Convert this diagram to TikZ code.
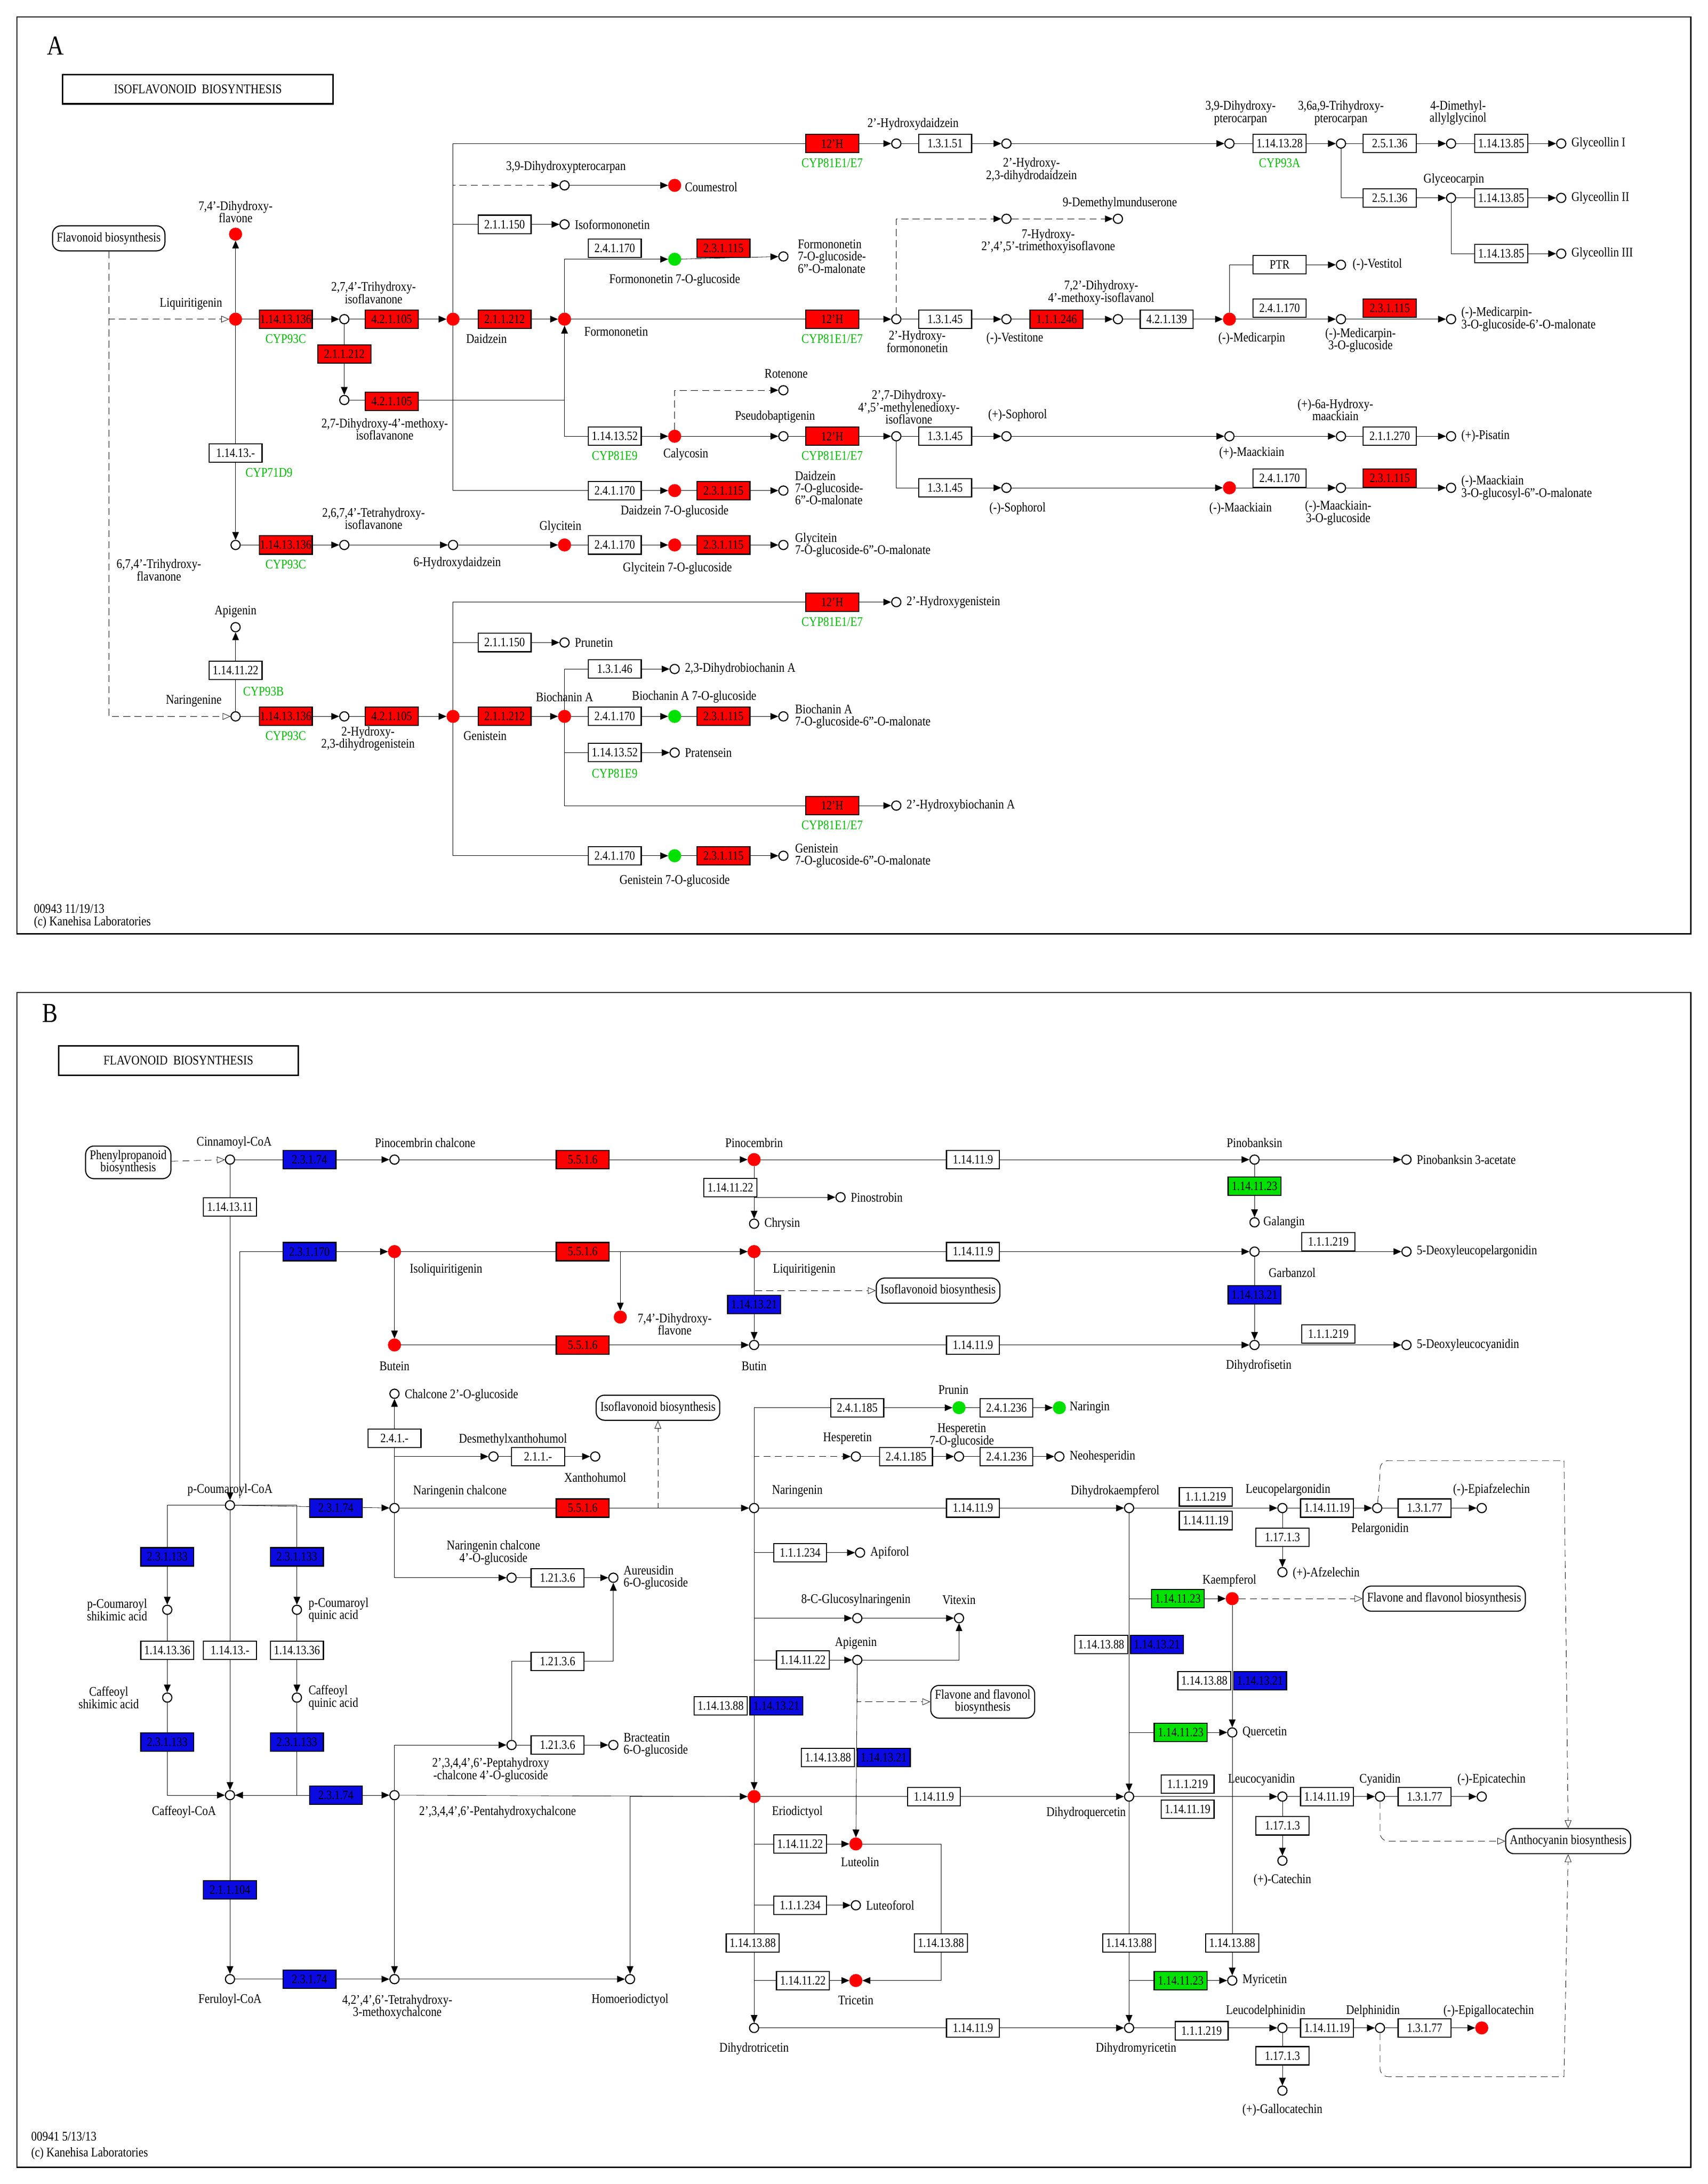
\documentclass[tikz,border=0pt]{standalone}
\usepackage{fontspec}
\setmainfont[FakeStretch=0.85]{Liberation Serif}
\usetikzlibrary{arrows.meta,backgrounds,positioning}
\definecolor{kr}{RGB}{255,0,0}
\definecolor{kb}{RGB}{10,10,225}
\definecolor{kg}{RGB}{0,225,0}
\definecolor{gt}{RGB}{0,190,0}
\begin{document}
\begin{tikzpicture}[x=0.5mm,y=-0.5mm,line width=1.1pt,
 every node/.style={font=\fontsize{13.5}{12.5}\selectfont},
 c/.style={circle,draw,fill=white,inner sep=0,minimum size=3.3mm},
 rd/.style={circle,draw=kr,fill=kr,inner sep=0,minimum size=4.3mm},
 gd/.style={circle,draw=kg,fill=kg,inner sep=0,minimum size=4.3mm},
 e/.style={rectangle,draw,fill=white,inner sep=0,minimum width=19mm,minimum height=6.6mm,font=\fontsize{13}{13}\selectfont},
 er/.style={e,fill=kr},eb/.style={e,fill=kb},eg/.style={e,fill=kg},
 t/.style={align=center,inner sep=0},
 tl/.style={align=left,inner sep=0,anchor=west},
 g/.style={text=gt,inner sep=0},
 pb/.style={draw,rounded corners=3mm,fill=white,align=center,inner sep=1.5mm,minimum height=9mm},
 a/.style={-{Triangle[length=2.8mm,width=2.4mm]}},
 ds/.style={dashed,dash pattern=on 2.5mm off 1.5mm},
 oa/.style={-{Triangle[open,length=2.8mm,width=2.4mm]}}]
\useasboundingbox (0,0) rectangle (1225,1567);
%================= PANEL A ==================
\draw (12,12) rectangle (1213,670);
\node[font=\fontsize{28}{30}\selectfont] (LA) at (40,33) {A};
\node[draw,line width=1.5pt,minimum width=97mm,minimum height=10.5mm] (TA) at (142,64) {ISOFLAVONOID\ \ BIOSYNTHESIS};
\node[t,anchor=west] (fa1) at (24,652) {00943 11/19/13};
\node[t,anchor=west] (fa2) at (24,662) {(c) Kanehisa Laboratories};
\node[pb] (fb) at (78,171) {Flavonoid biosynthesis};
% compounds
\node[rd] (lq) at (169,229) {}; \node[rd] (dhf) at (169,168) {};
\node[c] (nar) at (169,514) {};
\node[c] (thi) at (247,229) {}; \node[rd] (dz) at (325,229) {};
\node[c] (dmi) at (247,287) {}; \node[rd] (fm) at (405,229) {};
\node[c] (hd) at (643,103) {}; \node[c] (hdd) at (722,103) {};
\node[c] (dhp) at (882,103) {}; \node[c] (thp) at (962,103) {};
\node[c] (dag) at (1041,103) {}; \node[c] (g1) at (1120,103) {};
\node[c] (gc) at (1041,142) {}; \node[c] (g2) at (1120,142) {}; \node[c] (g3) at (1120,182) {};
\node[c] (dhpc) at (405,133) {}; \node[rd] (cou) at (484,133) {};
\node[c] (ifm) at (405,161) {};
\node[gd] (fg) at (484,186) {}; \node[c] (fgm) at (562,184) {};
\node[c] (hf) at (643,229) {}; \node[c] (ves) at (722,229) {};
\node[c] (dmi2) at (802,229) {}; \node[rd] (med) at (882,229) {};
\node[c] (tmi) at (722,157) {}; \node[c] (dmm) at (802,157) {};
\node[c] (vst) at (962,190) {}; \node[c] (mg) at (962,229) {}; \node[c] (mgm) at (1041,229) {};
\node[rd] (cal) at (484,313) {}; \node[c] (rot) at (562,280) {};
\node[c] (pbp) at (562,313) {}; \node[c] (dmi3) at (643,313) {};
\node[c] (sop) at (722,313) {}; \node[c] (pma) at (882,313) {};
\node[c] (hma) at (962,313) {}; \node[c] (pis) at (1041,313) {};
\node[c] (msop) at (722,350) {}; \node[rd] (mma) at (882,350) {};
\node[c] (mmg) at (962,350) {}; \node[c] (mmgm) at (1041,350) {};
\node[rd] (dg) at (484,352) {}; \node[c] (dgm) at (562,352) {};
\node[c] (tfl) at (169,391) {}; \node[c] (tti) at (247,391) {};
\node[c] (hdz) at (325,391) {}; \node[rd] (gly) at (405,391) {};
\node[rd] (gg) at (484,391) {}; \node[c] (ggm) at (562,391) {};
\node[c] (api) at (169,450) {};
\node[c] (thg) at (247,514) {}; \node[rd] (gen) at (325,514) {};
\node[c] (hg) at (643,432) {}; \node[c] (pru) at (405,461) {};
\node[rd] (bio) at (405,514) {}; \node[c] (dhb) at (484,480) {};
\node[gd] (bg) at (484,514) {}; \node[c] (bgm) at (562,514) {};
\node[c] (pra) at (484,540) {}; \node[c] (hb) at (643,578) {};
\node[gd] (gg7) at (484,614) {}; \node[c] (ggm7) at (562,614) {};
% edges A
\begin{scope}[on background layer]
\fill[white] (0,0) rectangle (1225,1567);
\draw[ds,oa] (fb.south) |- (lq);
\draw[ds,oa] (fb.south) |- (nar);
\draw[a] (lq) -- (dhf);
\draw[a] (lq) -- (thi); \draw[a] (thi) -- (dz); \draw[a] (thi) -- (dmi);
\draw[a] (dmi) -| (fm); \draw[a] (dz) -- (fm);
\draw[a] (dz) |- (hd); \draw[a] (hd) -- (hdd); \draw[a] (hdd) -- (dhp);
\draw[a] (dhp) -- (thp); \draw[a] (thp) -- (dag); \draw[a] (dag) -- (g1);
\draw[a] (thp) |- (gc); \draw[a] (gc) -- (g2); \draw[a] (gc) |- (g3);
\draw[ds,a] (dz) |- (dhpc); \draw[a] (dhpc) -- (cou);
\draw[a] (dz) |- (ifm);
\draw[a] (fm) |- (fg); \draw[a] (fg) -- (fgm);
\draw[a] (fm) -- (hf); \draw[a] (hf) -- (ves); \draw[a] (ves) -- (dmi2); \draw[a] (dmi2) -- (med);
\draw[ds,a] (hf) |- (tmi); \draw[ds,a] (tmi) -- (dmm);
\draw[a] (med) |- (vst); \draw[a] (med) -- (mg); \draw[a] (mg) -- (mgm);
\draw[a] (fm) |- (cal); \draw[ds,a] (cal) |- (rot);
\draw[a] (cal) -- (pbp); \draw[a] (pbp) -- (dmi3); \draw[a] (dmi3) -- (sop);
\draw[a] (sop) -- (pma); \draw[a] (pma) -- (hma); \draw[a] (hma) -- (pis);
\draw[a] (dmi3) |- (msop); \draw[a] (msop) -- (mma); \draw[a] (mma) -- (mmg); \draw[a] (mmg) -- (mmgm);
\draw[a] (dz) |- (dg); \draw[a] (dg) -- (dgm);
\draw[a] (lq) -- (tfl); \draw[a] (tfl) -- (tti); \draw[a] (tti) -- (hdz);
\draw[a] (hdz) -- (gly); \draw[a] (gly) -- (gg); \draw[a] (gg) -- (ggm);
\draw[a] (nar) -- (api); \draw[a] (nar) -- (thg); \draw[a] (thg) -- (gen);
\draw[a] (gen) |- (hg); \draw[a] (gen) |- (pru); \draw[a] (gen) -- (bio);
\draw[a] (bio) |- (dhb); \draw[a] (bio) -- (bg); \draw[a] (bg) -- (bgm);
\draw[a] (bio) |- (pra); \draw[a] (bio) |- (hb);
\draw[a] (gen) |- (gg7); \draw[a] (gg7) -- (ggm7);
\end{scope}
% enzymes A
\node[er] (ea1) at (205,229) {1.14.13.136}; \node[g] (ga1) at (205,243) {CYP93C};
\node[er] (ea2) at (281,229) {4.2.1.105};
\node[er] (ea3) at (247,254) {2.1.1.212};
\node[er] (ea4) at (281,288) {4.2.1.105};
\node[er] (ea5) at (362,229) {2.1.1.212};
\node[er] (ea6) at (597,103) {12'H}; \node[g] (ga6) at (597,117) {CYP81E1/E7};
\node[e] (ea7) at (678,103) {1.3.1.51};
\node[e] (ea8) at (918,103) {1.14.13.28}; \node[g] (ga8) at (918,117) {CYP93A};
\node[e] (ea9) at (997,103) {2.5.1.36};
\node[e] (ea10) at (1077,103) {1.14.13.85};
\node[e] (ea11) at (997,142) {2.5.1.36};
\node[e] (ea12) at (1077,142) {1.14.13.85};
\node[e] (ea13) at (1077,182) {1.14.13.85};
\node[e] (ea14) at (362,161) {2.1.1.150};
\node[e] (ea15) at (441,178) {2.4.1.170};
\node[er] (ea16) at (519,178) {2.3.1.115};
\node[er] (ea17) at (597,229) {12'H}; \node[g] (ga17) at (597,243) {CYP81E1/E7};
\node[e] (ea18) at (678,229) {1.3.1.45};
\node[er] (ea19) at (758,229) {1.1.1.246};
\node[e] (ea20) at (837,229) {4.2.1.139};
\node[e] (ea21) at (918,190) {PTR};
\node[e] (ea22) at (918,221) {2.4.1.170};
\node[er] (ea23) at (997,221) {2.3.1.115};
\node[e] (ea24) at (441,313) {1.14.13.52}; \node[g] (ga24) at (441,327) {CYP81E9};
\node[er] (ea25) at (597,313) {12'H}; \node[g] (ga25) at (597,327) {CYP81E1/E7};
\node[e] (ea26) at (678,313) {1.3.1.45};
\node[e] (ea27) at (997,313) {2.1.1.270};
\node[e] (ea28) at (678,350) {1.3.1.45};
\node[e] (ea29) at (918,343) {2.4.1.170};
\node[er] (ea30) at (997,343) {2.3.1.115};
\node[e] (ea31) at (441,352) {2.4.1.170};
\node[er] (ea32) at (519,352) {2.3.1.115};
\node[e] (ea33) at (169,325) {1.14.13.-}; \node[g] (ga33) at (193,339) {CYP71D9};
\node[er] (ea34) at (205,391) {1.14.13.136}; \node[g] (ga34) at (205,405) {CYP93C};
\node[e] (ea35) at (441,391) {2.4.1.170};
\node[er] (ea36) at (519,391) {2.3.1.115};
\node[e] (ea37) at (169,481) {1.14.11.22}; \node[g] (ga37) at (189,496) {CYP93B};
\node[er] (ea38) at (205,514) {1.14.13.136}; \node[g] (ga38) at (205,528) {CYP93C};
\node[er] (ea39) at (281,514) {4.2.1.105};
\node[er] (ea40) at (597,432) {12'H}; \node[g] (ga40) at (597,446) {CYP81E1/E7};
\node[e] (ea41) at (362,461) {2.1.1.150};
\node[er] (ea42) at (362,514) {2.1.1.212};
\node[e] (ea43) at (441,480) {1.3.1.46};
\node[e] (ea44) at (441,514) {2.4.1.170};
\node[er] (ea45) at (519,514) {2.3.1.115};
\node[e] (ea46) at (441,540) {1.14.13.52}; \node[g] (ga46) at (441,555) {CYP81E9};
\node[er] (ea47) at (597,578) {12'H}; \node[g] (ga47) at (597,592) {CYP81E1/E7};
\node[e] (ea48) at (441,614) {2.4.1.170};
\node[er] (ea49) at (519,614) {2.3.1.115};
% labels A
\node[t] (la1) at (137,218) {Liquiritigenin};
\node[t] (la2) at (169,152) {7,4'-Dihydroxy-\\flavone};
\node[t] (la3) at (268,210) {2,7,4'-Trihydroxy-\\isoflavanone};
\node[t] (la4) at (349,243) {Daidzein};
\node[t] (la5) at (276,308) {2,7-Dihydroxy-4'-methoxy-\\isoflavanone};
\node[t] (la6) at (442,238) {Formononetin};
\node[t] (la7) at (655,89) {2'-Hydroxydaidzein};
\node[t] (la8) at (740,122) {2'-Hydroxy-\\2,3-dihydrodaidzein};
\node[t] (la9) at (890,81) {3,9-Dihydroxy-\\pterocarpan};
\node[t] (la10) at (962,81) {3,6a,9-Trihydroxy-\\pterocarpan};
\node[t] (la11) at (1046,81) {4-Dimethyl-\\allylglycinol};
\node[tl] (la12) at (1127,103) {Glyceollin I};
\node[t] (la13) at (1043,129) {Glyceocarpin};
\node[tl] (la14) at (1127,142) {Glyceollin II};
\node[tl] (la15) at (1127,182) {Glyceollin III};
\node[t] (la16) at (406,120) {3,9-Dihydroxypterocarpan};
\node[tl] (la17) at (491,134) {Coumestrol};
\node[tl] (la18) at (412,161) {Isoformononetin};
\node[t] (la19) at (484,201) {Formononetin 7-O-glucoside};
\node[tl] (la20) at (572,184) {Formononetin\\7-O-glucoside-\\6''-O-malonate};
\node[t] (la21) at (658,245) {2'-Hydroxy-\\formononetin};
\node[t] (la22) at (728,243) {(-)-Vestitone};
\node[t] (la23) at (790,210) {7,2'-Dihydroxy-\\4'-methoxy-isoflavanol};
\node[t] (la24) at (898,243) {(-)-Medicarpin};
\node[t] (la25) at (752,173) {7-Hydroxy-\\2',4',5'-trimethoxyisoflavone};
\node[tl] (la26) at (762,146) {9-Demethylmunduserone};
\node[tl] (la27) at (970,190) {(-)-Vestitol};
\node[t] (la28) at (976,244) {(-)-Medicarpin-\\3-O-glucoside};
\node[tl] (la29) at (1048,229) {(-)-Medicarpin-\\3-O-glucoside-6'-O-malonate};
\node[t] (la30) at (564,268) {Rotenone};
\node[t] (la31) at (492,326) {Calycosin};
\node[t] (la32) at (556,299) {Pseudobaptigenin};
\node[t] (la33) at (652,292) {2',7-Dihydroxy-\\4',5'-methylenedioxy-\\isoflavone};
\node[t] (la34) at (730,298) {(+)-Sophorol};
\node[t] (la35) at (898,325) {(+)-Maackiain};
\node[t] (la36) at (958,294) {(+)-6a-Hydroxy-\\maackiain};
\node[tl] (la37) at (1048,313) {(+)-Pisatin};
\node[t] (la38) at (730,365) {(-)-Sophorol};
\node[t] (la39) at (890,365) {(-)-Maackiain};
\node[t] (la40) at (960,368) {(-)-Maackiain-\\3-O-glucoside};
\node[tl] (la41) at (1048,350) {(-)-Maackiain\\3-O-glucosyl-6''-O-malonate};
\node[t] (la42) at (484,367) {Daidzein 7-O-glucoside};
\node[tl] (la43) at (570,350) {Daidzein\\7-O-glucoside-\\6''-O-malonate};
\node[t] (la44) at (114,409) {6,7,4'-Trihydroxy-\\flavanone};
\node[t] (la45) at (268,372) {2,6,7,4'-Tetrahydroxy-\\isoflavanone};
\node[t] (la46) at (328,404) {6-Hydroxydaidzein};
\node[t] (la47) at (402,378) {Glycitein};
\node[t] (la48) at (486,408) {Glycitein 7-O-glucoside};
\node[tl] (la49) at (570,391) {Glycitein\\7-O-glucoside-6''-O-malonate};
\node[t] (la50) at (169,439) {Apigenin};
\node[t] (la51) at (139,503) {Naringenine};
\node[t] (la52) at (264,530) {2-Hydroxy-\\2,3-dihydrogenistein};
\node[t] (la53) at (348,528) {Genistein};
\node[tl] (la54) at (650,432) {2'-Hydroxygenistein};
\node[tl] (la55) at (412,461) {Prunetin};
\node[t] (la56) at (405,500) {Biochanin A};
\node[tl] (la57) at (491,480) {2,3-Dihydrobiochanin A};
\node[t] (la58) at (498,500) {Biochanin A 7-O-glucoside};
\node[tl] (la59) at (570,514) {Biochanin A\\7-O-glucoside-6''-O-malonate};
\node[tl] (la60) at (491,540) {Pratensein};
\node[tl] (la61) at (650,578) {2'-Hydroxybiochanin A};
\node[t] (la62) at (484,632) {Genistein 7-O-glucoside};
\node[tl] (la63) at (570,614) {Genistein\\7-O-glucoside-6''-O-malonate};
%================= PANEL B ==================
\draw (12,712) rectangle (1213,1555);
\node[font=\fontsize{28}{30}\selectfont] (LB) at (36,727) {B};
\node[draw,line width=1.5pt,minimum width=86mm,minimum height=10.5mm] (TB) at (128,761) {FLAVONOID\ \ BIOSYNTHESIS};
\node[t,anchor=west] (fb1) at (22,1533) {00941 5/13/13};
\node[t,anchor=west] (fb2) at (22,1545) {(c) Kanehisa Laboratories};
\node[pb] (pp) at (92,834) {Phenylpropanoid\\biosynthesis};
\node[pb] (if1) at (673,926) {Isoflavonoid biosynthesis};
\node[pb] (if2) at (472,1010) {Isoflavonoid biosynthesis};
\node[pb] (ff1) at (705,1221) {Flavone and flavonol\\biosynthesis};
\node[pb] (ff2) at (1036,1147) {Flavone and flavonol biosynthesis};
\node[pb] (anb) at (1125,1321) {Anthocyanin biosynthesis};
% compounds B
\node[c] (cin) at (165,832) {}; \node[c] (pcc) at (283,832) {};
\node[rd] (pin) at (541,832) {}; \node[c] (pnb) at (900,832) {}; \node[c] (pba) at (1009,832) {};
\node[c] (chr) at (541,878) {}; \node[c] (pst) at (603,859) {}; \node[c] (gal) at (900,877) {};
\node[c] (pco) at (165,1080) {};
\node[rd] (isl) at (283,898) {}; \node[rd] (liq) at (541,898) {};
\node[c] (gar) at (900,898) {}; \node[c] (dlp) at (1009,898) {};
\node[rd] (but) at (283,965) {}; \node[c] (btn) at (541,965) {};
\node[c] (dfi) at (900,965) {}; \node[c] (dlc) at (1009,965) {};
\node[rd] (dhf2) at (445,945) {};
\node[c] (c2g) at (283,1000) {}; \node[c] (nch) at (283,1082) {};
\node[c] (nar2) at (541,1082) {}; \node[c] (dhk) at (810,1082) {};
\node[c] (dxh) at (354,1045) {}; \node[c] (xan) at (427,1045) {};
\node[c] (ncg) at (367,1132) {}; \node[c] (aur) at (440,1132) {};
\node[c] (pcg) at (367,1252) {}; \node[c] (bra) at (440,1252) {};
\node[gd] (prn) at (688,1010) {}; \node[gd] (nrg) at (760,1010) {};
\node[c] (hes) at (614,1045) {}; \node[c] (hg7) at (688,1045) {}; \node[c] (neo) at (760,1045) {};
\node[c] (apf) at (617,1114) {};
\node[c] (cgn) at (615,1161) {}; \node[c] (vit) at (688,1161) {};
\node[c] (apg) at (615,1191) {};
\node[rd] (eri) at (541,1289) {}; \node[c] (dq) at (810,1289) {};
\node[rd] (lut) at (614,1323) {}; \node[c] (ltf) at (614,1367) {};
\node[c] (dht) at (541,1455) {}; \node[rd] (tri) at (614,1421) {};
\node[c] (dm) at (810,1455) {};
\node[c] (caf) at (165,1288) {}; \node[c] (phc) at (283,1288) {};
\node[c] (pcs) at (120,1155) {}; \node[c] (cs) at (120,1218) {};
\node[c] (pcq) at (213,1155) {}; \node[c] (cq) at (213,1218) {};
\node[c] (fer) at (165,1420) {}; \node[c] (tmc) at (283,1420) {}; \node[c] (hom) at (452,1420) {};
\node[c] (lpg) at (920,1082) {}; \node[c] (pel) at (988,1082) {}; \node[c] (epa) at (1063,1082) {};
\node[c] (afz) at (920,1128) {};
\node[rd] (kae) at (884,1147) {}; \node[c] (que) at (884,1243) {};
\node[c] (lcy) at (920,1289) {}; \node[c] (cya) at (990,1289) {}; \node[c] (epc) at (1063,1289) {};
\node[c] (cat) at (920,1335) {};
\node[c] (myr) at (884,1421) {};
\node[c] (ldp) at (920,1455) {}; \node[c] (del) at (990,1455) {}; \node[rd] (egc) at (1063,1455) {};
\node[c] (gct) at (920,1500) {};
\coordinate (k1) at (172,1075);
\coordinate (k2) at (675,1421);
\coordinate (k3) at (990,1060);
\coordinate (k4) at (1122,1048);
\coordinate (k5) at (990,1490);
\coordinate (k6) at (1122,1490);
% edges B
\begin{scope}[on background layer]
\draw[ds,oa] (pp) -- (cin);
\draw[a] (cin) -- (pcc); \draw[a] (pcc) -- (pin); \draw[a] (pin) -- (pnb); \draw[a] (pnb) -- (pba);
\draw[a] (pin) |- (pst); \draw[a] (pin) -- (chr); \draw[a] (pnb) -- (gal);
\draw[a] (cin) -- (pco);
\draw[a] (k1) |- (isl); \draw[a] (isl) -- (liq); \draw[a] (liq) -- (gar); \draw[a] (gar) -- (dlp);
\draw[a] (isl) -- (but); \draw[a] (but) -- (btn); \draw[a] (btn) -- (dfi); \draw[a] (dfi) -- (dlc);
\draw[a] (gar) -- (dfi);
\draw[ds,oa] (liq) |- (if1);
\draw[a] (liq) -| (dhf2); \draw[a] (liq) -- (btn);
\draw[a] (pco) -- (nch); \draw[a] (nch) -- (c2g); \draw[a] (nch) -- (nar2); \draw[a] (nar2) -- (dhk);
\draw[a] (nch) |- (dxh); \draw[a] (dxh) -- (xan);
\draw[ds,oa] (nar2) -| (if2);
\draw[a] (nch) |- (ncg); \draw[a] (ncg) -- (aur);
\draw[a] (pcg) |- (400,1192) -| (aur); \draw[a] (pcg) -- (bra);
\draw[a] (phc) |- (pcg);
\draw[a] (nar2) |- (prn); \draw[a] (prn) -- (nrg);
\draw[ds,a] (nar2) |- (hes); \draw[a] (hes) -- (hg7); \draw[a] (hg7) -- (neo);
\draw[a] (nar2) |- (apf); \draw[a] (nar2) |- (cgn); \draw[a] (cgn) -- (vit);
\draw[a] (nar2) |- (apg); \draw[a] (apg) -| (vit); \draw[ds,oa] (apg) |- (ff1);
\draw[a] (nar2) -- (eri); \draw[a] (eri) -- (dq);
\draw[a] (eri) |- (lut); \draw[a] (eri) |- (ltf); \draw[a] (eri) -- (dht); \draw[a] (dht) -- (dm);
\draw[a] (apg) -- (lut); \draw (lut) -| (k2); \draw[a] (k2) -- (tri);
\draw[a] (dht) |- (tri);
\draw[a] (dhk) -- (dq); \draw[a] (dq) -- (dm);
\draw[a] (dhk) |- (kae); \draw[ds,oa] (kae) -- (ff2); \draw[a] (kae) -- (que);
\draw[a] (dq) |- (que); \draw[a] (que) -- (myr); \draw[a] (dm) |- (myr);
\draw[a] (dhk) -- (lpg); \draw[a] (lpg) -- (pel); \draw[a] (pel) -- (epa); \draw[a] (lpg) -- (afz);
\draw[a] (dq) -- (lcy); \draw[a] (lcy) -- (cya); \draw[a] (cya) -- (epc); \draw[a] (lcy) -- (cat);
\draw[a] (dm) -- (ldp); \draw[a] (ldp) -- (del); \draw[a] (del) -- (egc); \draw[a] (ldp) -- (gct);
\draw[ds,rounded corners=3mm] (pel) -- (k3) |- (k4);
\draw[ds,oa] (k4) -- (anb.north);
\draw[ds,oa,rounded corners=3mm] (cya) |- (anb.west);
\draw[ds,rounded corners=3mm] (del) -- (k5) -- (k6);
\draw[ds,oa] (k6) -- (anb.south);
\draw[a] (pco) -| (pcs); \draw[a] (pcs) -- (cs); \draw[a] (cs) |- (caf);
\draw[a] (pco) -| (pcq); \draw[a] (pcq) -- (cq); \draw[a] (cq) |- (caf);
\draw[a] (pco) -- (caf); \draw[a] (caf) -- (phc); \draw[a] (caf) -- (fer); \draw[a] (fer) -- (tmc);
\draw[a] (eri) -| (hom); \draw[a] (phc) -- (eri); \draw[a] (tmc) -- (hom); \draw[a] (phc) -- (tmc);
\end{scope}
% enzymes B
\node[eb] (eb1) at (222,832) {2.3.1.74};
\node[er] (eb2) at (418,832) {5.5.1.6};
\node[e] (eb3) at (698,832) {1.14.11.9};
\node[e] (eb4) at (524,852) {1.14.11.22};
\node[eg] (eb5) at (900,851) {1.14.11.23};
\node[e] (eb6) at (165,866) {1.14.13.11};
\node[eb] (eb7) at (222,898) {2.3.1.170};
\node[er] (eb8) at (418,898) {5.5.1.6};
\node[e] (eb9) at (698,898) {1.14.11.9};
\node[e] (eb10) at (953,891) {1.1.1.219};
\node[eb] (eb11) at (900,929) {1.14.13.21};
\node[eb] (eb12) at (541,936) {1.14.13.21};
\node[er] (eb13) at (418,965) {5.5.1.6};
\node[e] (eb14) at (698,965) {1.14.11.9};
\node[e] (eb15) at (953,957) {1.1.1.219};
\node[e] (eb16) at (283,1032) {2.4.1.-};
\node[eb] (eb17) at (241,1082) {2.3.1.74};
\node[er] (eb18) at (418,1082) {5.5.1.6};
\node[e] (eb19) at (698,1082) {1.14.11.9};
\node[e] (eb20) at (386,1045) {2.1.1.-};
\node[e] (eb21) at (400,1132) {1.21.3.6};
\node[e] (eb22) at (400,1192) {1.21.3.6};
\node[e] (eb23) at (400,1252) {1.21.3.6};
\node[e] (eb24) at (615,1010) {2.4.1.185};
\node[e] (eb25) at (722,1010) {2.4.1.236};
\node[e] (eb26) at (650,1045) {2.4.1.185};
\node[e] (eb27) at (722,1045) {2.4.1.236};
\node[e] (eb28) at (574,1114) {1.1.1.234};
\node[e] (eb29) at (576,1191) {1.14.11.22};
\node[e] (eb30) at (517,1224) {1.14.13.88}; \node[eb] (eb31) at (557,1224) {1.14.13.21};
\node[e] (eb32) at (594,1261) {1.14.13.88}; \node[eb] (eb33) at (634,1261) {1.14.13.21};
\node[e] (eb34) at (670,1289) {1.14.11.9};
\node[e] (eb35) at (574,1323) {1.14.11.22};
\node[e] (eb36) at (574,1367) {1.1.1.234};
\node[e] (eb37) at (540,1394) {1.14.13.88};
\node[e] (eb38) at (675,1394) {1.14.13.88};
\node[e] (eb39) at (810,1394) {1.14.13.88};
\node[e] (eb40) at (884,1394) {1.14.13.88};
\node[e] (eb41) at (576,1421) {1.14.11.22};
\node[e] (eb42) at (698,1455) {1.14.11.9};
\node[eb] (eb43) at (120,1117) {2.3.1.133};
\node[eb] (eb44) at (213,1117) {2.3.1.133};
\node[e] (eb45) at (120,1184) {1.14.13.36};
\node[e] (eb46) at (165,1184) {1.14.13.-};
\node[e] (eb47) at (213,1184) {1.14.13.36};
\node[eb] (eb48) at (120,1250) {2.3.1.133};
\node[eb] (eb49) at (213,1250) {2.3.1.133};
\node[eb] (eb50) at (241,1288) {2.3.1.74};
\node[eb] (eb51) at (165,1356) {2.1.1.104};
\node[eb] (eb52) at (222,1420) {2.3.1.74};
\node[e] (eb53) at (865,1074) {1.1.1.219};
\node[e] (eb54) at (865,1091) {1.14.11.19};
\node[e] (eb55) at (952,1082) {1.14.11.19};
\node[e] (eb56) at (1022,1082) {1.3.1.77};
\node[e] (eb57) at (920,1103) {1.17.1.3};
\node[eg] (eb58) at (845,1147) {1.14.11.23};
\node[e] (eb59) at (790,1180) {1.14.13.88}; \node[eb] (eb60) at (830,1180) {1.14.13.21};
\node[e] (eb61) at (864,1206) {1.14.13.88}; \node[eb] (eb62) at (904,1206) {1.14.13.21};
\node[eg] (eb63) at (847,1243) {1.14.11.23};
\node[e] (eb64) at (852,1280) {1.1.1.219};
\node[e] (eb65) at (852,1298) {1.14.11.19};
\node[e] (eb66) at (952,1289) {1.14.11.19};
\node[e] (eb67) at (1022,1289) {1.3.1.77};
\node[e] (eb68) at (920,1310) {1.17.1.3};
\node[eg] (eb69) at (847,1421) {1.14.11.23};
\node[e] (eb70) at (862,1457) {1.1.1.219};
\node[e] (eb71) at (952,1455) {1.14.11.19};
\node[e] (eb72) at (1022,1455) {1.3.1.77};
\node[e] (eb73) at (920,1475) {1.17.1.3};
% labels B
\node[t] (lb1) at (168,820) {Cinnamoyl-CoA};
\node[t] (lb2) at (305,820) {Pinocembrin chalcone};
\node[t] (lb3) at (541,820) {Pinocembrin};
\node[t] (lb4) at (900,820) {Pinobanksin};
\node[tl] (lb5) at (1016,832) {Pinobanksin 3-acetate};
\node[tl] (lb6) at (610,859) {Pinostrobin};
\node[tl] (lb7) at (548,878) {Chrysin};
\node[tl] (lb8) at (906,877) {Galangin};
\node[t] (lb9) at (320,911) {Isoliquiritigenin};
\node[t] (lb10) at (577,911) {Liquiritigenin};
\node[t] (lb11) at (927,913) {Garbanzol};
\node[tl] (lb12) at (1016,898) {5-Deoxyleucopelargonidin};
\node[t] (lb13) at (484,950) {7,4'-Dihydroxy-\\flavone};
\node[t] (lb14) at (283,980) {Butein};
\node[t] (lb15) at (541,980) {Butin};
\node[t] (lb16) at (903,980) {Dihydrofisetin};
\node[tl] (lb17) at (1016,965) {5-Deoxyleucocyanidin};
\node[tl] (lb18) at (290,1001) {Chalcone 2'-O-glucoside};
\node[t] (lb19) at (368,1033) {Desmethylxanthohumol};
\node[t] (lb20) at (427,1060) {Xanthohumol};
\node[t] (lb21) at (165,1069) {p-Coumaroyl-CoA};
\node[t] (lb22) at (330,1070) {Naringenin chalcone};
\node[t] (lb23) at (572,1070) {Naringenin};
\node[t] (lb24) at (800,1070) {Dihydrokaempferol};
\node[t] (lb25) at (684,997) {Prunin};
\node[tl] (lb26) at (767,1010) {Naringin};
\node[t] (lb27) at (608,1032) {Hesperetin};
\node[t] (lb28) at (690,1030) {Hesperetin\\7-O-glucoside};
\node[tl] (lb29) at (767,1045) {Neohesperidin};
\node[t] (lb30) at (354,1114) {Naringenin chalcone\\4'-O-glucoside};
\node[tl] (lb31) at (447,1132) {Aureusidin\\6-O-glucoside};
\node[tl] (lb32) at (624,1114) {Apiforol};
\node[t] (lb33) at (614,1148) {8-C-Glucosylnaringenin};
\node[t] (lb34) at (688,1148) {Vitexin};
\node[t] (lb35) at (614,1179) {Apigenin};
\node[tl] (lb36) at (447,1252) {Bracteatin\\6-O-glucoside};
\node[t] (lb37) at (352,1270) {2',3,4,4',6'-Peptahydroxy\\-chalcone 4'-O-glucoside};
\node[t] (lb38) at (357,1300) {2',3,4,4',6'-Pentahydroxychalcone};
\node[t] (lb39) at (132,1300) {Caffeoyl-CoA};
\node[t] (lb40) at (84,1155) {p-Coumaroyl\\shikimic acid};
\node[tl] (lb41) at (221,1155) {p-Coumaroyl\\quinic acid};
\node[t] (lb42) at (78,1218) {Caffeoyl\\shikimic acid};
\node[tl] (lb43) at (221,1218) {Caffeoyl\\quinic acid};
\node[t] (lb44) at (572,1300) {Eriodictyol};
\node[t,anchor=east] (lb45) at (808,1301) {Dihydroquercetin};
\node[t] (lb46) at (617,1336) {Luteolin};
\node[tl] (lb47) at (621,1367) {Luteoforol};
\node[t] (lb48) at (614,1435) {Tricetin};
\node[t] (lb49) at (541,1470) {Dihydrotricetin};
\node[t] (lb50) at (815,1470) {Dihydromyricetin};
\node[t] (lb51) at (165,1435) {Feruloyl-CoA};
\node[t] (lb52) at (285,1440) {4,2',4',6'-Tetrahydroxy-\\3-methoxychalcone};
\node[t] (lb53) at (452,1435) {Homoeriodictyol};
\node[t] (lb54) at (924,1069) {Leucopelargonidin};
\node[t] (lb55) at (990,1097) {Pelargonidin};
\node[t] (lb56) at (1070,1069) {(-)-Epiafzelechin};
\node[tl] (lb57) at (927,1129) {(+)-Afzelechin};
\node[t] (lb58) at (882,1134) {Kaempferol};
\node[tl] (lb59) at (891,1243) {Quercetin};
\node[t] (lb60) at (905,1277) {Leucocyanidin};
\node[t] (lb61) at (990,1277) {Cyanidin};
\node[t] (lb62) at (1070,1277) {(-)-Epicatechin};
\node[t] (lb63) at (920,1349) {(+)-Catechin};
\node[tl] (lb64) at (891,1421) {Myricetin};
\node[t] (lb65) at (908,1443) {Leucodelphinidin};
\node[t] (lb66) at (985,1443) {Delphinidin};
\node[t] (lb67) at (1068,1443) {(-)-Epigallocatechin};
\node[t] (lb68) at (920,1514) {(+)-Gallocatechin};
\end{tikzpicture}
\end{document}
